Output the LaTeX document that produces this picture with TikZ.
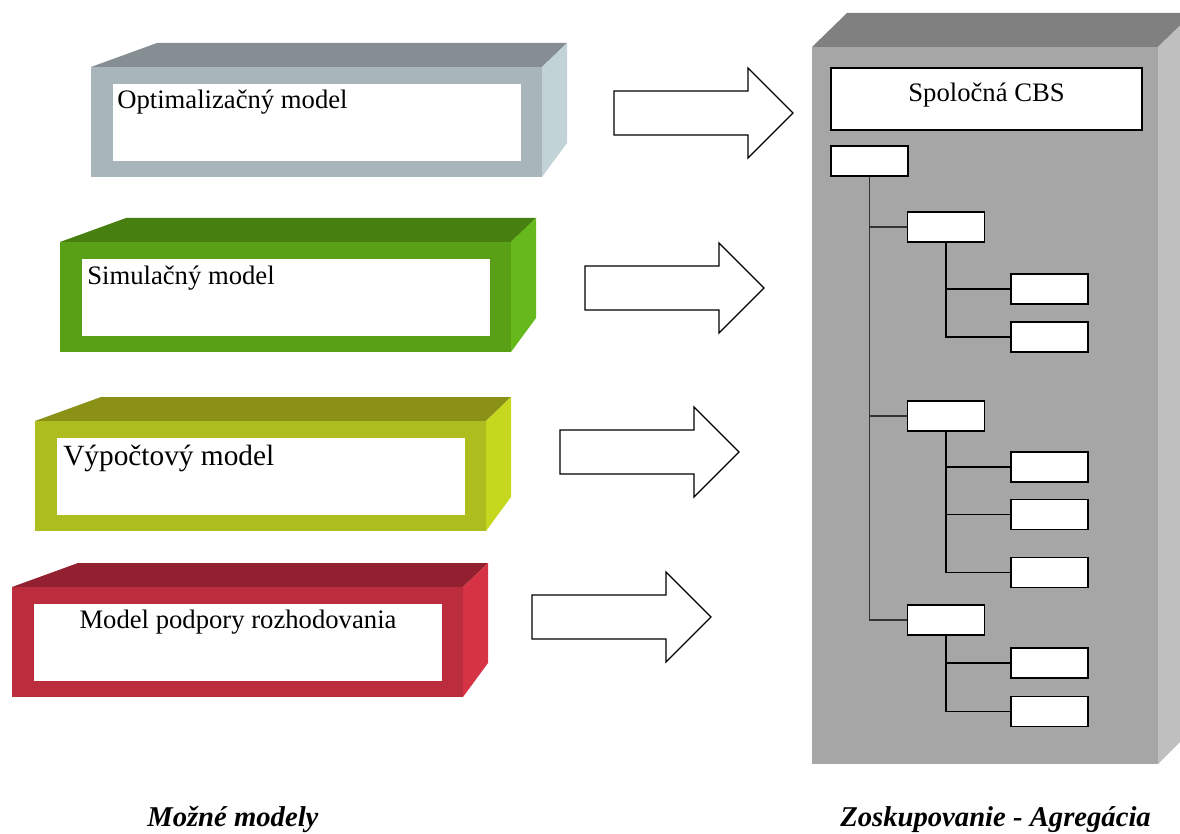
\documentclass[tikz,border=0pt]{standalone}
\usepackage{fontspec}
\setmainfont{Liberation Serif}

\definecolor{optTop}{HTML}{858E93}
\definecolor{optFront}{HTML}{A8B5BA}
\definecolor{optSide}{HTML}{C2D3D7}
\definecolor{simTop}{HTML}{477F10}
\definecolor{simFront}{HTML}{5AA016}
\definecolor{simSide}{HTML}{65B91A}
\definecolor{vypTop}{HTML}{8A9116}
\definecolor{vypFront}{HTML}{ADBD1D}
\definecolor{vypSide}{HTML}{C6D81E}
\definecolor{mprTop}{HTML}{922030}
\definecolor{mprFront}{HTML}{BB2C3C}
\definecolor{mprSide}{HTML}{D63444}
\definecolor{panelTop}{HTML}{808080}
\definecolor{panelFront}{HTML}{A6A6A6}
\definecolor{panelSide}{HTML}{BFBFBF}

% 3D frame of a model: #1 left x, #2 top y, #3 colour prefix
\newcommand{\kvader}[3]{%
  \fill[#3Top] (#1,#2) -- (#1+66,#2-24) -- (#1+476,#2-24) -- (#1+451,#2) -- cycle;
  \fill[#3Side] (#1+451,#2) -- (#1+476,#2-24) -- (#1+476,#2+76) -- (#1+451,#2+110) -- cycle;
  \fill[#3Front] (#1,#2) rectangle (#1+451,#2+110);
  \fill[white] (#1+22,#2+17) rectangle (#1+430,#2+94);
}

\tikzset{
  modeltext/.style={font=\fontsize{20}{24}\selectfont, inner sep=0},
  caption/.style={font=\fontsize{21.5}{26}\selectfont\bfseries\itshape, inner sep=0},
  leaf/.style={draw, line width=1.1pt, fill=white, minimum width=57.75pt, minimum height=22.5pt, inner sep=0},
  cbsbox/.style={draw, line width=1pt, fill=white, minimum width=233.25pt, minimum height=46.5pt,
    text height=10pt, text depth=6pt, font=\fontsize{20}{24}\selectfont},
  trunk/.style={line width=0.8pt, black!80},
  branch/.style={line width=1.1pt},
  blockarr/.style={draw, line width=1pt, fill=white, line join=miter},
}

\begin{document}
\begin{tikzpicture}[x=0.75pt, y=-0.75pt]
\useasboundingbox (0,0) rectangle (1180,834);
\clip (0,0) rectangle (1180,834);

% models
\kvader{91}{67}{opt}
\kvader{60}{242}{sim}
\kvader{35}{421}{vyp}
\kvader{12}{587}{mpr}
\node[modeltext, anchor=base west] (opt) at (117,109) {Optimalizačný model};
\node[modeltext, anchor=base west] (sim) at (87,284) {Simulačný model};
\node[modeltext, anchor=base west, font=\fontsize{22}{26}\selectfont] (vyp) at (63,465) {Výpočtový model};
\node[modeltext, anchor=base] (mpr) at (238,628) {Model podpory rozhodovania};

% block arrows
\foreach \ax/\ay in {614/113, 585/288, 560/452, 532/617}
  \draw[blockarr] (\ax,\ay-22) -- (\ax+134,\ay-22) -- (\ax+134,\ay-45) -- (\ax+179,\ay)
    -- (\ax+134,\ay+45) -- (\ax+134,\ay+22) -- (\ax,\ay+22) -- cycle;

% CBS panel
\fill[panelTop] (812,47) -- (847,13) -- (1193,13) -- (1158,47) -- cycle;
\fill[panelSide] (1158,47) -- (1193,13) -- (1193,729) -- (1158,764) -- cycle;
\fill[panelFront] (812,47) rectangle (1158,764);

\node[cbsbox] (cbs) at (986.5,99) {Spoločná CBS};
\node[leaf] (root) at (869.5,161) {};
\node[leaf] (a) at (946,227) {};
\node[leaf] (b) at (946,416) {};
\node[leaf] (c) at (946,620) {};
\node[leaf] (a1) at (1049.5,289) {};
\node[leaf] (a2) at (1049.5,337) {};
\node[leaf] (b1) at (1049.5,467) {};
\node[leaf] (b2) at (1049.5,514.5) {};
\node[leaf] (b3) at (1049.5,572.5) {};
\node[leaf] (c1) at (1049.5,663) {};
\node[leaf] (c2) at (1049.5,711.5) {};

\foreach \k in {a,b,c}
  \draw[trunk] (root.south) |- (\k.west);
\foreach \p/\k in {a/a1,a/a2,b/b1,b/b2,b/b3,c/c1,c/c2}
  \draw[branch] (\p.south) |- (\k.west);

% captions
\node[caption, anchor=base west] (mozne) at (147,826) {Možné modely};
\node[caption, anchor=base west] (zosk) at (840,826) {Zoskupovanie - Agregácia};
\end{tikzpicture}
\end{document}
